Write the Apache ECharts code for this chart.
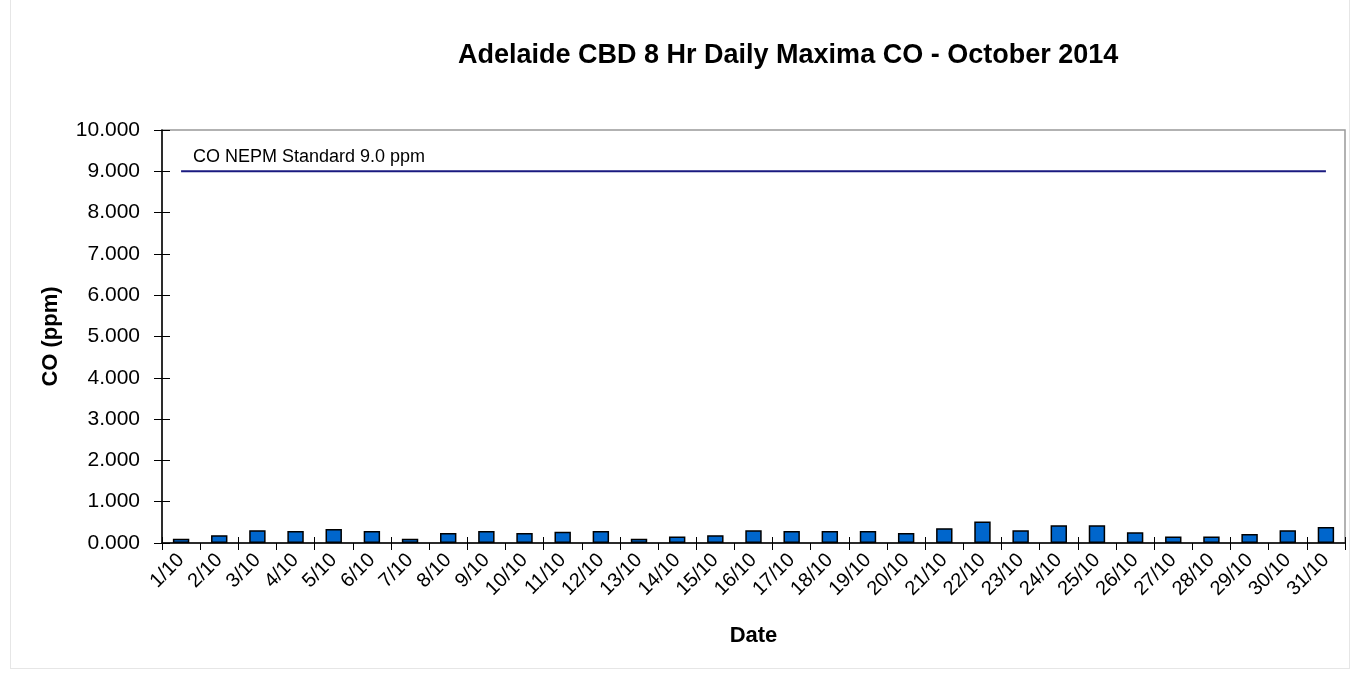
<!DOCTYPE html>
<html>
<head>
<meta charset="utf-8">
<script src="https://cdn.jsdelivr.net/npm/echarts@6/dist/echarts.min.js"></script>
<style>
  html, body { margin: 0; padding: 0; background: #fff; }
  #frame { position: absolute; left: 10px; top: 0; width: 1338px; height: 668px; border: 1px solid #e6e6e6; border-top: none; }
  #chart { width: 1357px; height: 675px; position: absolute; left: 0; top: 0; }
</style>
</head>
<body>
<div id="frame"></div>
<div id="chart"></div>
<script>
// October 2014 days
const days = ['1/10','2/10','3/10','4/10','5/10','6/10','7/10','8/10','9/10','10/10',
  '11/10','12/10','13/10','14/10','15/10','16/10','17/10','18/10','19/10','20/10',
  '21/10','22/10','23/10','24/10','25/10','26/10','27/10','28/10','29/10','30/10','31/10'];
// 8-hour daily maximum CO (ppm)
const coMax = [0.10, 0.19, 0.31, 0.29, 0.34, 0.29, 0.10, 0.24, 0.29, 0.24,
  0.27, 0.29, 0.10, 0.16, 0.19, 0.31, 0.29, 0.29, 0.29, 0.24,
  0.36, 0.52, 0.31, 0.43, 0.43, 0.26, 0.16, 0.16, 0.22, 0.31, 0.39];
// NEPM standard level (ppm)
const nepmStandard = 9.0;
const yTicks = { min: 0, max: 10, interval: 1 };

const font = 'Liberation Sans, Arial, sans-serif';
const chart = echarts.init(document.getElementById('chart'));

const grid = { left: 162, right: 12, top: 130, bottom: 132 };

chart.setOption({
  animation: false,
  title: {
    text: 'Adelaide CBD 8 Hr Daily Maxima CO - October 2014',
    left: 453, top: 37,
    textStyle: { fontFamily: font, fontSize: 27, fontWeight: 'bold', color: '#000' }
  },
  grid: Object.assign({ show: true, borderColor: '#999', borderWidth: 1.5 }, grid),
  xAxis: [{
    type: 'category', data: days, boundaryGap: true,
    name: 'Date', nameLocation: 'middle', nameGap: 82,
    nameTextStyle: { fontFamily: font, fontSize: 22, fontWeight: 'bold', color: '#000' },
    axisLine: { lineStyle: { color: '#000', width: 1.5 } },
    axisTick: { show: true, length: 7, lineStyle: { color: '#000' } },
    axisLabel: { rotate: 45, margin: 14, fontFamily: font, fontSize: 20, color: '#000', interval: 0 },
    splitLine: { show: false }
  }, {
    // inward half of the crossing tick marks
    type: 'category', data: days, position: 'bottom', boundaryGap: true,
    axisLine: { show: false },
    axisTick: { show: true, inside: true, length: 6, lineStyle: { color: '#000' } },
    axisLabel: { show: false }, splitLine: { show: false }
  }],
  yAxis: [{
    type: 'value', min: yTicks.min, max: yTicks.max, interval: yTicks.interval,
    name: 'CO (ppm)', nameLocation: 'middle', nameGap: 100,
    nameTextStyle: { fontFamily: font, fontSize: 22, fontWeight: 'bold', color: '#000' },
    axisLine: { show: true, lineStyle: { color: '#000', width: 1.5 } },
    axisTick: { show: true, length: 8, lineStyle: { color: '#000' } },
    axisLabel: { margin: 22, fontFamily: font, fontSize: 21, color: '#000',
      formatter: v => v.toFixed(3) },
    splitLine: { show: false }
  }, {
    type: 'value', min: yTicks.min, max: yTicks.max, interval: yTicks.interval, position: 'left',
    axisLine: { show: false },
    axisTick: { show: true, inside: true, length: 8, lineStyle: { color: '#000' } },
    axisLabel: { show: false }, splitLine: { show: false }
  }],
  series: [{
    type: 'bar', data: coMax, barWidth: '43%',
    itemStyle: { color: '#0066CC', borderColor: '#000', borderWidth: 1.5 }
  }, {
    type: 'line', data: days.map(() => nepmStandard),
    symbol: 'none', lineStyle: { color: '#1A1A80', width: 2 },
    z: 3
  }],
  graphic: [{
    type: 'text', left: 193, top: 148,
    style: { text: 'CO NEPM Standard 9.0 ppm', fontFamily: font, fontSize: 18, fill: '#000' }
  }]
});
</script>
</body>
</html>
